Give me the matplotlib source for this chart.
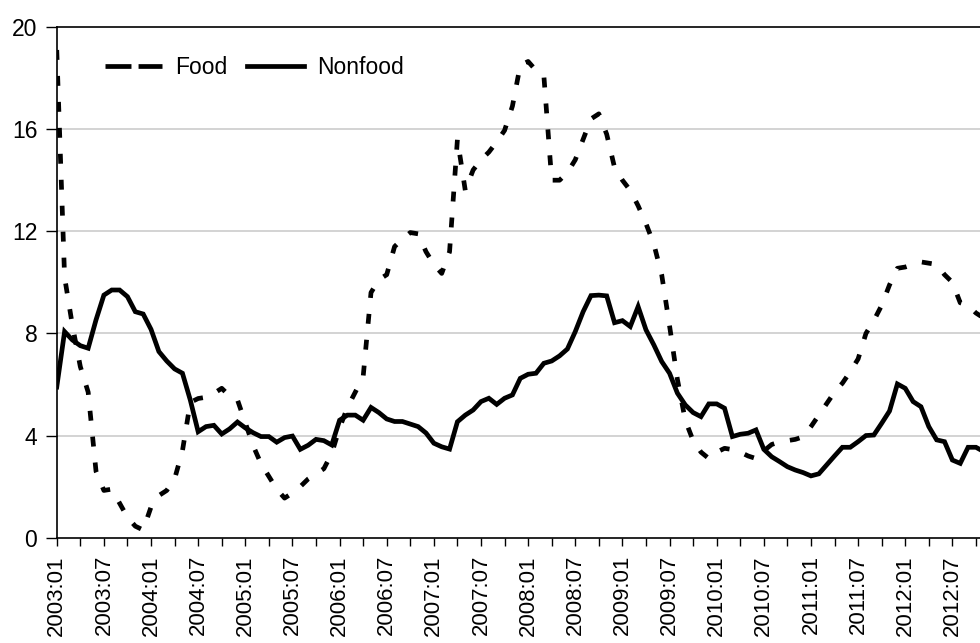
import numpy as np
import matplotlib
matplotlib.use('Agg')
import matplotlib.pyplot as plt
import pandas as pd
from matplotlib.lines import Line2D

plt.rcParams['font.family'] = ['Liberation Sans', 'DejaVu Sans']

# monthly inflation, 2003:01 onwards
food = [19.1, 10.2, 8.3, 6.7, 5.7, 2.6, 1.85, 1.9, 1.35, 0.8,
        0.45, 0.3, 1.2, 1.65, 1.85, 2.3, 3.4, 5.3, 5.45, 5.5,
        5.65, 5.85, 5.55, 5.4, 4.5, 3.6, 2.9, 2.4, 1.9, 1.55,
        1.75, 2.0, 2.3, 2.5, 2.7, 3.3, 4.3, 5.1, 5.7, 6.3,
        9.6, 10.1, 10.3, 11.4, 11.7, 11.95, 11.9, 11.2, 10.7, 10.35,
        11.2, 15.6, 13.6, 14.4, 14.8, 15.1, 15.5, 15.95, 16.9, 18.5,
        18.65, 18.3, 18.1, 14.0, 14.0, 14.3, 14.8, 15.6, 16.4, 16.6,
        15.8, 14.5, 14.0, 13.6, 13.0, 12.3, 11.5, 10.3, 8.3, 6.2,
        4.6, 3.8, 3.35, 3.1, 3.35, 3.5, 3.45, 3.35, 3.2, 3.1,
        3.4, 3.65, 3.75, 3.8, 3.85, 3.95, 4.35, 4.8, 5.25, 5.7,
        6.05, 6.5, 7.0, 8.0, 8.5, 9.1, 9.9, 10.55, 10.6, 10.7,
        10.8, 10.75, 10.7, 10.3, 10.0, 9.2, 9.1, 8.8, 8.6]

nonfood = [5.9, 8.07, 7.74, 7.52, 7.42, 8.53, 9.5, 9.7, 9.7, 9.44,
           8.85, 8.76, 8.16, 7.29, 6.92, 6.61, 6.44, 5.39, 4.15, 4.35,
           4.4, 4.06, 4.26, 4.53, 4.3, 4.11, 3.96, 3.96, 3.74, 3.92,
           3.98, 3.46, 3.62, 3.85, 3.8, 3.63, 4.6, 4.8, 4.8, 4.6,
           5.1, 4.9, 4.65, 4.55, 4.55, 4.45, 4.35, 4.1, 3.7, 3.56,
           3.47, 4.54, 4.8, 5.0, 5.33, 5.46, 5.22, 5.46, 5.59, 6.24,
           6.4, 6.44, 6.83, 6.92, 7.12, 7.39, 8.07, 8.85, 9.48, 9.5,
           9.47, 8.42, 8.5, 8.27, 9.05, 8.14, 7.55, 6.9, 6.44, 5.66,
           5.2, 4.9, 4.74, 5.24, 5.24, 5.07, 3.96, 4.05, 4.09, 4.22,
           3.46, 3.17, 2.98, 2.78, 2.65, 2.55, 2.42, 2.5, 2.85, 3.2,
           3.54, 3.54, 3.76, 4.0, 4.02, 4.48, 4.96, 6.02, 5.85, 5.33,
           5.13, 4.35, 3.83, 3.76, 3.04, 2.91, 3.54, 3.54, 3.37]

dates = pd.period_range('2003-01', periods=len(food), freq='M')
yticks = [0, 4, 8, 12, 16, 20]

# 图形
fig = plt.figure(figsize=(9.8, 6.43), dpi=100)
ax = fig.add_axes([0.0579, 0.1638, 0.954, 0.7942])

x = np.arange(len(food))
ax.plot(x, food, color='black', lw=3.4, linestyle=(0, (2.1, 3.4)),
        dash_capstyle='butt', label='Food')
ax.plot(x, nonfood, color='black', lw=3.4, solid_joinstyle='miter',
        label='Nonfood')

# 坐标轴
ax.set_xlim(0, 119)
ax.set_ylim(0, 20)
ax.set_xticks(x[::6])
ax.set_xticklabels([d.strftime('%Y:%m') for d in dates[::6]],
                   rotation=90, fontsize=16)
ax.set_xticks(x[3::6], minor=True)
ax.tick_params(axis='x', which='both', direction='out', length=6,
               width=1, pad=6.5)
ax.set_yticks(yticks)
ax.set_yticklabels([str(v) for v in yticks], fontsize=16.5)
ax.tick_params(axis='y', direction='out', length=8, width=1, pad=6)

for v in yticks[1:-1]:
    ax.axhline(v, color='#cccccc', lw=1.2, zorder=0)

for s in ['left', 'bottom', 'top']:
    ax.spines[s].set_linewidth(1.2)
ax.spines['right'].set_visible(False)

handles = [Line2D([], [], color='black', lw=3.4,
                  linestyle=(0, (5.5, 1.5)), dash_capstyle='butt'),
           Line2D([], [], color='black', lw=3.4)]
ax.legend(handles, ['Food', 'Nonfood'], ncol=2, frameon=False,
          fontsize=16.5, loc='center left', bbox_to_anchor=(0.042, 0.92),
          handlelength=2.5, handletextpad=0.55, columnspacing=0.85,
          borderaxespad=0)

fig.savefig('out.png', dpi=100)
